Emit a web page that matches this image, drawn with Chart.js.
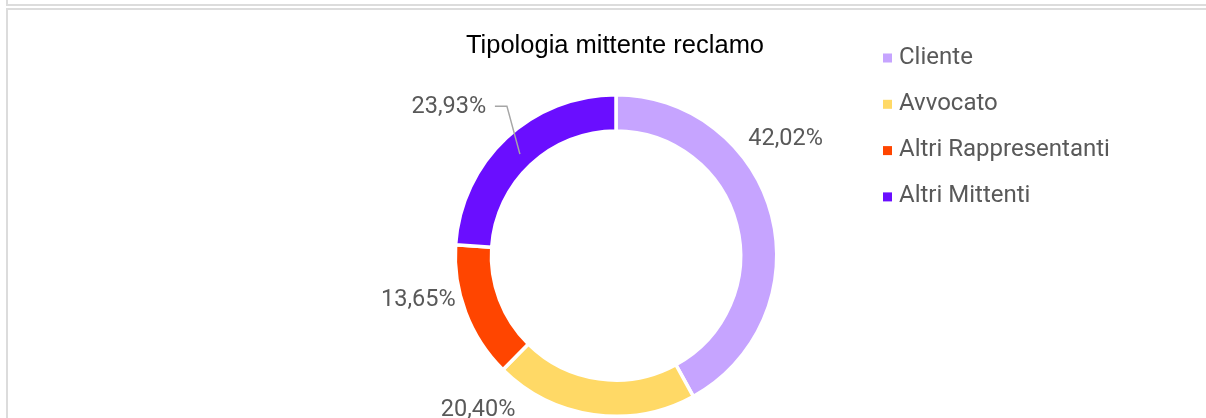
<!DOCTYPE html>
<html>
<head>
<meta charset="utf-8">
<script src="https://cdn.jsdelivr.net/npm/chart.js@4"></script>
<style>
  html, body { margin: 0; padding: 0; background: #fff; }
  body { width: 1206px; height: 418px; position: relative; overflow: hidden; }
  .boxTop { position: absolute; left: 6px; top: -10px; width: 1300px; height: 14px; border: 2px solid #dcdcdc; border-top: none; }
  .boxMain { position: absolute; left: 6px; top: 8px; width: 1300px; height: 500px; border-left: 2px solid #dcdcdc; border-top: 2px solid #dcdcdc; }
  #wrap { position: absolute; left: 0; top: 0; width: 1206px; height: 418px; }
</style>
</head>
<body>
<div class="boxTop"></div>
<div class="boxMain"></div>
<div id="wrap"><canvas id="myChart"></canvas></div>
<script>
// data
const categories = ['Cliente', 'Avvocato', 'Altri Rappresentanti', 'Altri Mittenti'];
const shares = [42.02, 20.40, 13.65, 23.93];
const sliceColors = ['#C6A4FF', '#FFD966', '#FF4500', '#6A0EFF'];

// label placement around the ring: [angle from top in degrees, distance from centre as fraction of outer radius]
const labelPlacement = [[55.5, 1.28], [221.7, 1.29], [257.4, 1.26], [311.6, 1.39]];

const chartTitle = 'Tipologia mittente reclamo';

const fmt = v => v.toFixed(2).replace('.', ',') + '%';

const decorations = {
    id: 'decorations',
    afterDraw(chart) {
        const ctx = chart.ctx;
        const meta = chart.getDatasetMeta(0);
        const arc0 = meta.data[0];
        const cx = arc0.x, cy = arc0.y, r = arc0.outerRadius;

        ctx.save();
        // title
        ctx.fillStyle = '#000';
        ctx.font = '25.5px "Liberation Sans", Arial, sans-serif';
        ctx.textAlign = 'center';
        ctx.textBaseline = 'middle';
        ctx.fillText(chartTitle, 615, 46);

        // percentage labels
        ctx.font = '23.5px Roboto, sans-serif';
        ctx.fillStyle = '#595959';
        meta.data.forEach((arc, i) => {
            const a = labelPlacement[i][0] * Math.PI / 180;
            const d = labelPlacement[i][1] * r;
            const x = cx + Math.sin(a) * d;
            const y = cy - Math.cos(a) * d;
            ctx.textAlign = 'center';
            ctx.fillText(fmt(shares[i]), x, y);
            if (i === 3) {
                // leader line into the slice
                ctx.strokeStyle = '#a6a6a6';
                ctx.lineWidth = 1.5;
                ctx.beginPath();
                ctx.moveTo(x + 46, y - 1);
                ctx.lineTo(x + 58, y - 1);
                ctx.lineTo(x + 71, y + 47);
                ctx.stroke();
            }
        });

        // legend
        ctx.textAlign = 'left';
        ctx.font = '24px Roboto, sans-serif';
        categories.forEach((c, i) => {
            const y = 57.5 + i * 46.3;
            ctx.fillStyle = sliceColors[i];
            ctx.fillRect(883, y - 4, 9, 9);
            ctx.fillStyle = '#595959';
            ctx.fillText(c, 899, y);
        });
        ctx.restore();
    }
};

const ctx = document.getElementById('myChart').getContext('2d');
const myChart = new Chart(ctx, {
    type: 'doughnut',
    data: {
        labels: categories,
        datasets: [{
            data: shares,
            backgroundColor: sliceColors,
            borderColor: '#ffffff',
            borderWidth: 3.5
        }]
    },
    options: {
        responsive: true,
        maintainAspectRatio: false,
        animation: false,
        cutout: '77.5%',
        layout: { padding: { left: 453, right: 427, top: 93, bottom: 0 } },
        plugins: {
            legend: { display: false },
            title: { display: false },
            tooltip: { enabled: false }
        }
    },
    plugins: [decorations]
});
</script>
</body>
</html>
